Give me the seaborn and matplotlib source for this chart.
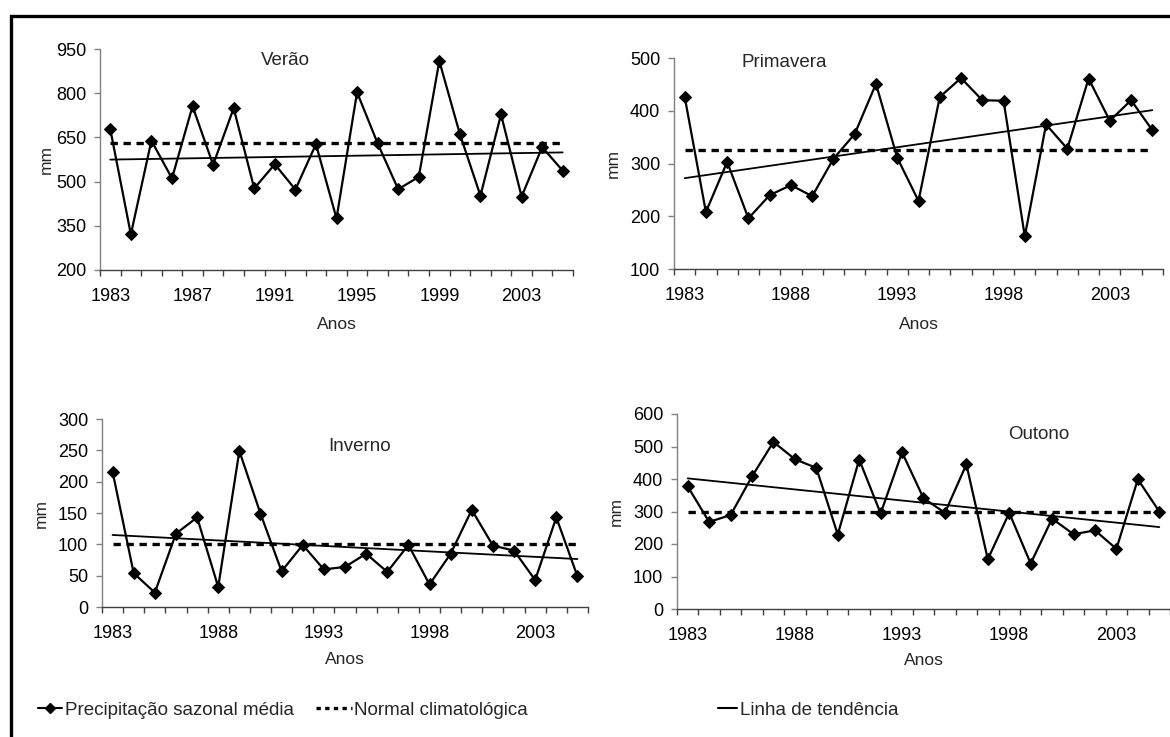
import numpy as np
import matplotlib
matplotlib.use("Agg")
import matplotlib.pyplot as plt
import seaborn as sns
from matplotlib.lines import Line2D
from matplotlib.patches import Rectangle
from matplotlib.ticker import FixedLocator

# anos 1983-2005 (eixo de categorias)
years = list(range(1983, 2006))

verao = [678, 321, 639, 511, 756, 557, 749, 477, 559, 473, 627, 375,
         803, 630, 474, 516, 909, 661, 452, 728, 449, 617, 537]
primavera = [427, 208, 303, 196, 240, 259, 238, 309, 356, 451, 311, 229,
             426, 462, 420, 419, 162, 374, 328, 461, 381, 420, 363]
inverno = [216, 54, 23, 117, 143, 32, 249, 149, 57, 99, 60, 64,
           85, 56, 99, 36, 85, 155, 98, 90, 43, 143, 49]
outono = [377, 268, 289, 408, 514, 461, 434, 229, 460, 294, 482, 341,
          296, 445, 153, 296, 140, 278, 230, 242, 185, 399, 300]

normal_verao = 630
normal_primavera = 325
normal_inverno = 100
normal_outono = 297

W, H = 1170, 737

sns.set_theme(style="white")
plt.rcParams["font.family"] = ["Liberation Sans", "DejaVu Sans"]


def px_axes(fig, left, top, right, bottom):
    return fig.add_axes([left / W, 1 - bottom / H, (right - left) / W, (bottom - top) / H])


def draw_panel(ax, values, normal, title, title_xy, ylim, ystep, label_step, ylab_x, xlab_y):
    sns.lineplot(x=years, y=values, ax=ax, color="black", marker="D", markersize=6,
                 markeredgecolor="black", linewidth=1.6, clip_on=False)
    sns.regplot(x=years, y=values, ax=ax, scatter=False, ci=None, color="black",
                line_kws={"linewidth": 1.3})
    ax.hlines(normal, years[0], years[-1], colors="black", linewidth=2.4,
              linestyles=(0, (2.2, 1.7)))

    ax.set_xlim(years[0] - 0.5, years[-1] + 0.5)
    ax.set_ylim(*ylim)
    ax.yaxis.set_major_locator(FixedLocator(np.arange(ylim[0], ylim[1] + 1, ystep)))
    ax.xaxis.set_major_locator(FixedLocator(years[::label_step]))
    ax.xaxis.set_minor_locator(FixedLocator([y - 0.5 for y in years] + [years[-1] + 0.5]))

    for s in ["top", "right"]:
        ax.spines[s].set_visible(False)
    ax.spines["left"].set_color("#808080")
    ax.spines["bottom"].set_color("#404040")
    ax.spines["left"].set_linewidth(1.0)
    ax.spines["bottom"].set_linewidth(1.0)

    ax.tick_params(axis="x", which="major", length=0, pad=13, labelsize=13, colors="black")
    ax.tick_params(axis="x", which="minor", length=4, width=1, color="#404040",
                   direction="out", bottom=True)
    ax.tick_params(axis="y", which="major", length=4, width=1, color="#808080",
                   direction="out", pad=6, labelsize=13, labelcolor="black", left=True)
    ax.grid(False)

    ax.set_xlabel("Anos", fontsize=12.5)
    ax.set_ylabel("mm", fontsize=12.5)
    ax.xaxis.set_label_coords(0.5, xlab_y)
    ax.yaxis.set_label_coords(ylab_x, 0.5)

    ax.text(title_xy[0], title_xy[1], title, transform=ax.transAxes, ha="center",
            va="center", fontsize=13.5)


fig = plt.figure(figsize=(W / 100, H / 100), dpi=100)

ax1 = px_axes(fig, 100, 49, 573, 270)
ax2 = px_axes(fig, 674, 58, 1163, 269)
ax3 = px_axes(fig, 102, 419, 588, 607)
ax4 = px_axes(fig, 677, 414, 1170, 609)

draw_panel(ax1, verao, normal_verao, "Verão", (0.393, 0.946), (200, 950), 150, 4, -0.097, -0.213)
draw_panel(ax2, primavera, normal_primavera, "Primavera", (0.225, 0.981), (100, 500), 100, 5, -0.108, -0.227)
draw_panel(ax3, inverno, normal_inverno, "Inverno", (0.529, 0.856), (0, 300), 50, 5, -0.109, -0.239)
draw_panel(ax4, outono, normal_outono, "Outono", (0.734, 0.897), (0, 600), 100, 5, -0.1075, -0.226)

# moldura
fig.add_artist(Rectangle((11 / W, -0.2), 1.5, (H - 15.7) / H + 0.2, transform=fig.transFigure,
                         fill=False, edgecolor="black", linewidth=2.4, clip_on=False))

# legenda
leg_y = 1 - 710 / H
h1 = Line2D([], [], color="black", marker="D", markersize=5, linewidth=1.5)
h2 = Line2D([], [], color="black", linewidth=2.4, linestyle=(0, (1.3, 1.3)))
h3 = Line2D([], [], color="black", linewidth=1.5)
for handle, label, x0, hl in [(h1, "Precipitação sazonal média", 38, 1.3),
                              (h2, "Normal climatológica", 316, 1.9),
                              (h3, "Linha de tendência", 718, 1.0)]:
    fig.legend([handle], [label], loc="center left", bbox_to_anchor=(x0 / W, leg_y),
               frameon=False, fontsize=13.5, handlelength=hl, handletextpad=0.15,
               borderpad=0, borderaxespad=0)

fig.savefig("out.png", dpi=100)
